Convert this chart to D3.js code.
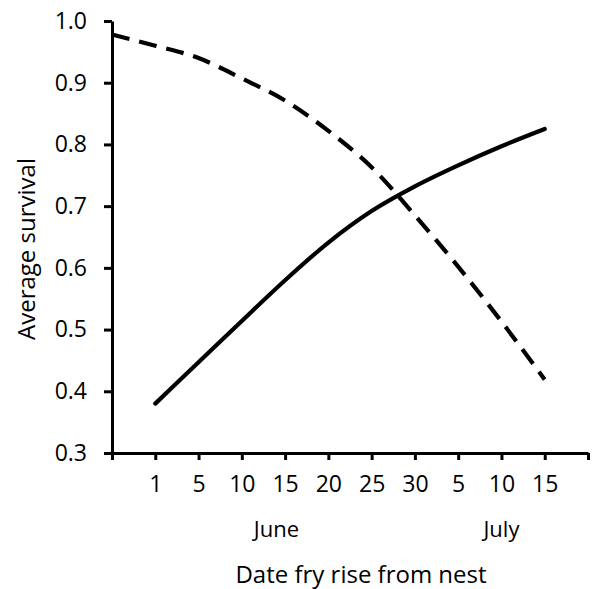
<!DOCTYPE html>
<html>
<head>
<meta charset="utf-8">
<script src="https://cdn.jsdelivr.net/npm/d3@7"></script>
<style>
  body { margin: 0; background: #fff; }
  text { font-family: "Open Sans", sans-serif; fill: #000; }
</style>
</head>
<body>
<svg id="chart"></svg>
<script>
// tick slots along the date axis (evenly spaced in the original figure)
const dayLabels = ["", "1", "5", "10", "15", "20", "25", "30", "5", "10", "15", ""];
const monthLabels = ["June", "July"];
const monthSlots = [3.8, 9];

const yTicks = [0.3, 0.4, 0.5, 0.6, 0.7, 0.8, 0.9, 1.0];

// solid curve: slot index -> average survival
const solidSlots = [1, 2, 3, 4, 5, 6, 7, 8, 9, 10];
const solidValues = [0.38, 0.447, 0.514, 0.58, 0.641, 0.692, 0.732, 0.766, 0.797, 0.825];

// dashed curve
const dashedSlots = [0, 1, 2, 3, 4, 5, 6, 7, 8, 9, 10];
const dashedValues = [0.978, 0.96, 0.94, 0.907, 0.871, 0.822, 0.763, 0.685, 0.602, 0.513, 0.419];

const W = 592, H = 589;
const margin = { top: 21, right: 4, bottom: 136, left: 112 };
const width = W - margin.left - margin.right;
const height = H - margin.top - margin.bottom;

const svg = d3.select("#chart").attr("width", W).attr("height", H);

const g = svg.append("g")
  .attr("transform", `translate(${margin.left},${margin.top})`);

const x = d3.scaleLinear().domain([0, dayLabels.length - 1]).range([0, width]);
const y = d3.scaleLinear().domain([0.3, 1.0]).range([height, 0]);

// axes
const xAxis = g.append("g")
  .attr("transform", `translate(0,${height})`)
  .call(d3.axisBottom(x)
    .tickValues(d3.range(dayLabels.length))
    .tickFormat(i => dayLabels[i])
    .tickSize(7).tickSizeOuter(0).tickPadding(16));

const yAxis = g.append("g")
  .call(d3.axisLeft(y)
    .tickValues(yTicks)
    .tickFormat(d3.format(".1f"))
    .tickSize(8).tickSizeOuter(0).tickPadding(17));

[xAxis, yAxis].forEach(a => {
  a.attr("font-size", null).attr("font-family", null);
  a.select(".domain").attr("stroke", "#000").attr("stroke-width", 3);
  a.selectAll(".tick line").attr("stroke", "#000").attr("stroke-width", 3);
  a.selectAll(".tick text")
    .style("font-family", "'Open Sans', sans-serif")
    .style("font-size", "23px")
    .style("font-weight", 500)
    .attr("fill", "#000");
});

// curves
const line = d3.line()
  .x(d => x(d[0]))
  .y(d => y(d[1]))
  .curve(d3.curveMonotoneX);

g.append("path")
  .datum(d3.zip(solidSlots, solidValues))
  .attr("d", line)
  .attr("fill", "none")
  .attr("stroke", "#000")
  .attr("stroke-width", 4.2)
  .attr("stroke-linecap", "round");

g.append("path")
  .datum(d3.zip(dashedSlots, dashedValues))
  .attr("d", line)
  .attr("fill", "none")
  .attr("stroke", "#000")
  .attr("stroke-width", 4.2)
  .attr("stroke-dasharray", "18,10");

// month labels
g.selectAll(".month")
  .data(monthLabels)
  .enter()
  .append("text")
  .attr("class", "month")
  .attr("x", (d, i) => x(monthSlots[i]))
  .attr("y", height + 84)
  .attr("text-anchor", "middle")
  .attr("font-size", 22)
  .text(d => d);

// x axis title
svg.append("text")
  .attr("x", 361)
  .attr("y", 583)
  .attr("text-anchor", "middle")
  .attr("font-size", 24)
  .text("Date fry rise from nest");

// y axis title
svg.append("text")
  .attr("transform", "rotate(-90)")
  .attr("x", -249)
  .attr("y", 35)
  .attr("text-anchor", "middle")
  .attr("font-size", 24)
  .text("Average survival");
</script>
</body>
</html>
